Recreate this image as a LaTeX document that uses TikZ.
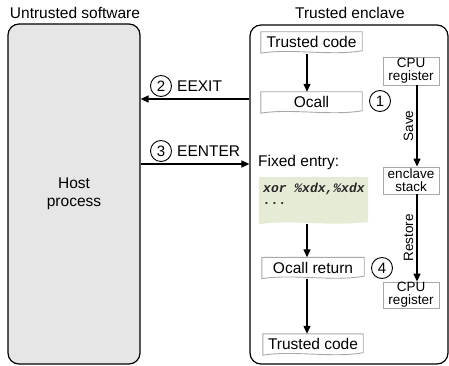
\documentclass[tikz,border=0pt]{standalone}
\usepackage{fontspec}
\setmainfont{Liberation Sans}
\newfontfamily\codefont{Liberation Mono}
\usetikzlibrary{arrows.meta,backgrounds,calc}
\definecolor{hostgray}{HTML}{E6E6E6}
\definecolor{boxgray}{HTML}{A8A8A8}
\definecolor{codegreen}{HTML}{E6EBD6}
\newcommand{\docpath}[2]{%
  \path[#2] (#1.north west) -- (#1.north east) -- ([yshift=1.5pt]#1.south east)
  .. controls ($(#1.south east)!0.3!(#1.south west)+(0,4)$) and ($(#1.south east)!0.7!(#1.south west)+(0,-4)$) .. ([yshift=-1pt]#1.south west) -- cycle;}
\tikzset{
  main/.style={font=\fontsize{15.5}{18}\selectfont},
  small/.style={font=\fontsize{13.5}{13}\selectfont},
  region/.style={draw=black, line width=1.2pt, rounded corners=11pt, inner sep=0pt},
  docnode/.style={main, inner sep=0pt, minimum height=20pt},
  regbox/.style={small, draw=boxgray, line width=0.9pt, fill=white, inner sep=0pt, minimum width=56pt, align=center},
  docfill/.style={draw=boxgray, line width=0.9pt, fill=white},
  greenfill/.style={fill=codegreen},
  num/.style={circle, draw=black, line width=0.9pt, minimum size=21pt, inner sep=0pt, font=\fontsize{15}{15}\selectfont},
  arr/.style={-{Triangle[length=8pt,width=7pt]}, line width=1.3pt},
  codetext/.style={font=\fontsize{13}{13}\selectfont\codefont\bfseries\itshape, inner sep=0pt, anchor=west, text=black!85}
}
\begin{document}
\begin{tikzpicture}[x=1pt,y=-1pt]
\useasboundingbox (0,0) rectangle (449,366);
% titles
\node[main] (uttitle) at (75,13) {Untrusted software};
\node[main] (tetitle) at (350,13) {Trusted enclave};
% regions
\node[region, fill=hostgray, minimum width=132pt, minimum height=340pt, main, align=center] (host) at (74,194) {Host\\process};
\node[region, minimum width=198pt, minimum height=339pt] (encl) at (349,194.5) {};
% left column document boxes
\node[docnode, minimum width=101pt] (tc1) at (311.5,42) {Trusted code};
\node[docnode, minimum width=101pt] (ocall) at (311.5,102) {Ocall};
\node[main, anchor=west, inner sep=0pt] (fixed) at (258,162) {Fixed entry:};
\node[inner sep=0pt, minimum width=109pt, minimum height=46pt] (green) at (313.5,200) {};
\node[codetext] (xor) at (263,189) {xor \%xdx,\%xdx};
\node[codetext] (dots) at (263,204) {...};
\node[docnode, minimum width=102pt] (ocr) at (313,267.5) {Ocall return};
\node[docnode, minimum width=100pt] (tc2) at (313,344) {Trusted code};
\begin{scope}[on background layer]
  \docpath{tc1}{docfill}
  \docpath{ocall}{docfill}
  \docpath{green}{greenfill}
  \docpath{ocr}{docfill}
  \docpath{tc2}{docfill}
\end{scope}
% right column registers
\node[regbox, minimum height=28pt] (cpu1) at (411,71) {CPU\\register};
\node[regbox, minimum height=27pt] (stack) at (411,180.5) {enclave\\stack};
\node[regbox, minimum height=26pt] (cpu2) at (411,295) {CPU\\register};
% numbered circles
\node[num] (n1) at (380,101) {1};
\node[num] (n2) at (161,86) {2};
\node[num] (n3) at (161,151) {3};
\node[num] (n4) at (382,268) {4};
% labels
\node[main, anchor=west, inner sep=0pt] (eexit) at (177,86) {EEXIT};
\node[main, anchor=west, inner sep=0pt] (eenter) at (177,151) {EENTER};
% arrows
\draw[arr] ([yshift=-2pt]307,0 |- tc1.south) -- (307,0 |- ocall.north);
\draw[arr] ([yshift=-1pt]307,0 |- green.south) -- (307,0 |- ocr.north);
\draw[arr] ([yshift=-1pt]307,0 |- ocr.south) -- (307,0 |- tc2.north);
\draw[arr] (417,0 |- cpu1.south) -- node[small, rotate=90, above, inner sep=3pt] (save) {Save} (417,0 |- stack.north);
\draw[arr] (417,0 |- stack.south) -- node[small, rotate=90, above, inner sep=3pt] (restore) {Restore} (417,0 |- cpu2.north);
\coordinate (exR) at (encl.west |- 0,99);
\coordinate (enR) at (encl.west |- 0,164);
\draw[arr] (exR) -- (host.east |- exR);
\draw[arr] (host.east |- enR) -- (enR);
\end{tikzpicture}
\end{document}
